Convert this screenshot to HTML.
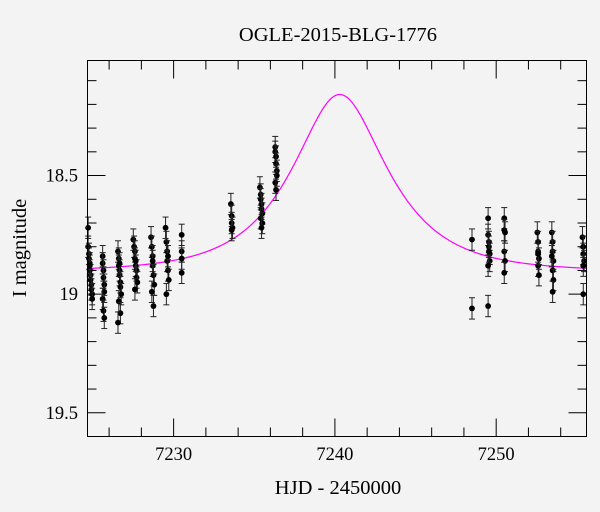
<!DOCTYPE html>
<html><head><meta charset="utf-8"><style>
body{margin:0;background:#f3f3f3;}
svg{display:block;font-family:"Liberation Serif",serif;}
</style></head><body>
<svg id="chart" width="600" height="512">
<rect width="600" height="512" fill="#f3f3f3"/>
<text x="338" y="41" font-size="20.5" text-anchor="middle">OGLE-2015-BLG-1776</text>
<text x="338" y="494" font-size="20.5" text-anchor="middle">HJD - 2450000</text>
<text transform="translate(26,248) rotate(-90)" font-size="20.5" text-anchor="middle">I magnitude</text>
<g id="ticks"></g>
<g id="model"></g>
<g id="points"></g>
<rect x="87.5" y="60.5" width="499" height="376" fill="none" stroke="#000" stroke-width="1"/>
</svg>
<script>
const tRanges=[7224.66,7255.6];
const magRange=[18.015,19.60];
const xTickLabels=[7230,7240,7250];
const yTickLabels=[18.5,19,19.5];
const modelParams=[7240.3,0.56,4.8,18.905]; // t0,u0,tE,baseline
const obsTimes=[
7224.7,7224.7,7224.75,7224.75,7224.8,7224.8,7224.85,7224.85,7224.9,7224.9,7224.95,7224.95,7224.8,
7225.6,7225.6,7225.65,7225.65,7225.7,7225.7,7225.6,7225.65,7225.7,
7226.55,7226.6,7226.6,7226.65,7226.65,7226.7,7226.7,7226.75,7226.6,7226.7,7226.55,7226.65,
7227.5,7227.55,7227.6,7227.6,7227.65,7227.7,7227.7,7227.75,7227.6,7227.65,
7228.6,7228.65,7228.7,7228.7,7228.75,7228.8,7228.65,7228.75,7228.7,
7229.5,7229.55,7229.6,7229.6,7229.65,7229.7,7229.55,7229.65,
7230.5,7230.5,7230.5,7230.5,
7233.55,7233.6,7233.6,7233.65,7233.6,
7235.35,7235.4,7235.4,7235.45,7235.45,7235.5,7235.4,7235.5,7235.45,
7236.3,7236.3,7236.35,7236.35,7236.4,7236.4,7236.3,7236.35,
7248.5,7248.5,
7249.5,7249.5,7249.55,7249.55,7249.6,7249.6,7249.5,7249.55,7249.5,
7250.5,7250.5,7250.55,7250.5,7250.55,7250.5,
7252.55,7252.6,7252.6,7252.65,7252.6,7252.65,7252.6,
7253.45,7253.5,7253.5,7253.55,7253.5,7253.55,7253.5,7253.45,
7255.35,7255.4,7255.4,7255.45,7255.4,7255.4];
const obsMags=[
18.72,18.80,18.83,18.85,18.87,18.90,18.92,18.94,18.96,18.98,19.00,19.02,18.88,
18.84,18.87,18.90,18.93,18.96,18.99,19.02,19.07,19.10,
18.82,18.85,18.88,18.90,18.92,18.95,18.97,19.00,19.03,19.08,19.12,18.87,
18.77,18.80,18.82,18.85,18.88,18.90,18.93,18.95,18.98,18.86,
18.76,18.80,18.84,18.88,18.92,18.96,18.99,19.05,18.86,
18.72,18.78,18.82,18.86,18.90,18.94,19.00,18.84,
18.75,18.82,18.85,18.91,
18.62,18.67,18.70,18.72,18.73,
18.55,18.58,18.60,18.62,18.64,18.66,18.68,18.70,18.72,
18.38,18.40,18.42,18.45,18.48,18.50,18.53,18.56,
18.77,19.06,
18.68,18.75,18.78,18.80,18.83,18.86,18.88,18.82,19.05,
18.68,18.73,18.74,18.82,18.86,18.91,
18.74,18.78,18.82,18.85,18.88,18.92,18.83,
18.74,18.78,18.82,18.86,18.90,18.94,18.99,18.84,
18.76,18.80,18.83,18.86,18.88,19.00];
const obsErrs=obsTimes.map(()=>0.045);

const X0=87.5,X1=586.5,Y0=60.5,Y1=436.5;
const NS="http://www.w3.org/2000/svg";
function xs(t){return X0+(t-tRanges[0])/(tRanges[1]-tRanges[0])*(X1-X0);}
function ys(m){return Y0+(m-magRange[0])/(magRange[1]-magRange[0])*(Y1-Y0);}
function mk(tag,attrs,parent){const e=document.createElementNS(NS,tag);for(const k in attrs)e.setAttribute(k,attrs[k]);parent.appendChild(e);return e;}

const tg=document.getElementById('ticks');
for(let t=7226;t<=7254;t+=2){
  const major=(t%10===0);const L=major?18:9;const x=xs(t);
  let e=mk('line',{x1:x,x2:x,y1:Y1,y2:Y1-L,stroke:'#000'},tg);
  
  
  e=mk('line',{x1:x,x2:x,y1:Y0,y2:Y0+L,stroke:'#000'},tg);
  
  
}
xTickLabels.forEach(v=>{
  const e=mk('text',{x:xs(v),y:460,'font-size':18.5,'text-anchor':'middle'},tg);e.textContent=v;
  
  
});
for(let i=181;i<=195;i++){
  const m=i/10;const major=(i%5===0);const L=major?18:9;const y=ys(m);
  let e=mk('line',{x1:X0,x2:X0+L,y1:y,y2:y,stroke:'#000'},tg);
  
  
  e=mk('line',{x1:X1,x2:X1-L,y1:y,y2:y,stroke:'#000'},tg);
  
  
}
yTickLabels.forEach(v=>{
  const e=mk('text',{x:78,y:ys(v)+6,'font-size':18.5,'text-anchor':'end'},tg);e.textContent=v;
  
  
});

// model
const [t0,u0,tE,base]=modelParams;
let d='';
for(let px=X0;px<=X1;px+=1){
  const t=tRanges[0]+(px-X0)/(X1-X0)*(tRanges[1]-tRanges[0]);
  const tau=(t-t0)/tE;const u=Math.sqrt(u0*u0+tau*tau);
  const A=(u*u+2)/(u*Math.sqrt(u*u+4));
  const m=base-2.5*Math.log10(A);
  d+=(d?'L':'M')+px.toFixed(1)+','+ys(m).toFixed(2);
}
const mg=document.getElementById('model');
const ml=mk('path',{d:d,fill:'none',stroke:'#ff00ff','stroke-width':1.2},mg);



const pg=document.getElementById('points');
obsTimes.forEach((t,i)=>{
  const x=xs(t),y=ys(obsMags[i]),ya=ys(obsMags[i]-obsErrs[i]),yb=ys(obsMags[i]+obsErrs[i]);
  const g=mk('g',{stroke:'#222','stroke-width':1},pg);
  
  
  mk('line',{x1:x,x2:x,y1:ya,y2:yb},g);
  mk('line',{x1:x-3,x2:x+3,y1:ya,y2:ya},g);
  mk('line',{x1:x-3,x2:x+3,y1:yb,y2:yb},g);
  mk('circle',{cx:x,cy:y,r:2.9,fill:'#000',stroke:'none'},g);
});
</script>
</body></html>
